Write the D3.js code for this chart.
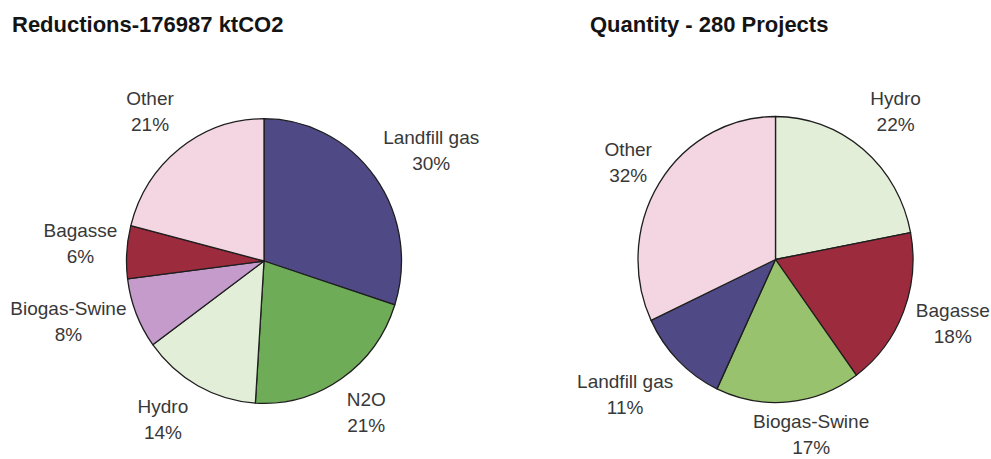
<!DOCTYPE html>
<html>
<head>
<meta charset="utf-8">
<script src="https://cdn.jsdelivr.net/npm/d3@7"></script>
<style>
  html, body { margin: 0; padding: 0; background: #ffffff; }
  svg { display: block; }
</style>
</head>
<body>
<svg id="chart" width="991" height="459"></svg>
<script>
// Emission reductions by project type (share of ktCO2)
const reductionTitle = "Reductions-176987 ktCO2";
const reductionCategories = ["Landfill gas", "N2O", "Hydro", "Biogas-Swine", "Bagasse", "Other"];
const reductionShares = [30, 21, 14, 8, 6, 21];

// Number of projects by type (share of 280 projects)
const quantityTitle = "Quantity - 280 Projects";
const quantityCategories = ["Hydro", "Bagasse", "Biogas-Swine", "Landfill gas", "Other"];
const quantityShares = [22, 18, 17, 11, 32];

// Fill colour per project type
const typeColors = {
  "Landfill gas": "#4f4a86",
  "N2O": "#6fac58",
  "Hydro": "#e2eed7",
  "Biogas-Swine": "#c49bca",
  "Bagasse": "#9d2b3e",
  "Other": "#f4d6e2"
};
const quantityColors = Object.assign({}, typeColors, { "Biogas-Swine": "#98c26d" });

// Small hand adjustments to the automatic outside-label placement
const reductionLabelNudge = {
  "Landfill gas": [5, 11], "N2O": [2, -2], "Hydro": [-14, -6],
  "Biogas-Swine": [0, -20], "Bagasse": [2, -6], "Other": [-3, -2]
};
const quantityLabelNudge = {
  "Hydro": [4, -3], "Bagasse": [0, -10], "Biogas-Swine": [19, -9],
  "Landfill gas": [-10, -11], "Other": [5, 3]
};

const svg = d3.select("#chart");

function drawPie(opts) {
  const { title, titleX, categories, shares, colors, nudge, cx, cy, radius, yStretch } = opts;

  svg.append("text")
    .attr("x", titleX)
    .attr("y", 32)
    .attr("font-family", "'Liberation Sans', Arial, sans-serif")
    .attr("font-size", 22)
    .attr("font-weight", "bold")
    .attr("fill", "#141414")
    .text(title);

  const data = categories.map((c, i) => ({ category: c, share: shares[i] }));
  const pie = d3.pie().sort(null).value(d => d.share);
  const arcs = pie(data);
  const arc = d3.arc().innerRadius(0).outerRadius(radius);

  const g = svg.append("g")
    .attr("transform", `translate(${cx},${cy}) scale(1,${yStretch})`);

  g.selectAll("path")
    .data(arcs)
    .join("path")
    .attr("d", arc)
    .attr("fill", d => colors[d.data.category])
    .attr("stroke", "#1e1e1e")
    .attr("stroke-width", 1.3)
    .attr("vector-effect", "non-scaling-stroke")
    .attr("stroke-linejoin", "round");

  // Labels sit just outside the rim, along each slice's mid-angle
  const gap = 10;
  const halfHeight = 24;
  arcs.forEach(a => {
    const mid = (a.startAngle + a.endAngle) / 2;
    const sx = Math.sin(mid), sy = -Math.cos(mid);
    const label = svg.append("text")
      .attr("font-family", "'Liberation Sans', Arial, sans-serif")
      .attr("font-size", 19)
      .attr("fill", "#383838")
      .attr("text-anchor", "middle");
    const t1 = label.append("tspan").text(a.data.category);
    const t2 = label.append("tspan").text(a.data.share + "%");
    const w = Math.max(t1.node().getComputedTextLength(), t2.node().getComputedTextLength());
    const extent = (w / 2) * Math.abs(sx) + halfHeight * Math.abs(sy);
    const dist = radius + gap + extent;
    const [nx, ny] = nudge[a.data.category] || [0, 0];
    const lx = cx + dist * sx + nx;
    const ly = cy + dist * sy * yStretch + ny;
    t1.attr("x", lx).attr("y", ly - 6);
    t2.attr("x", lx).attr("y", ly + 20);
  });
}

drawPie({
  title: reductionTitle, titleX: 12,
  categories: reductionCategories, shares: reductionShares,
  colors: typeColors, nudge: reductionLabelNudge,
  cx: 264, cy: 261, radius: 137.5, yStretch: 1.035
});

drawPie({
  title: quantityTitle, titleX: 590,
  categories: quantityCategories, shares: quantityShares,
  colors: quantityColors, nudge: quantityLabelNudge,
  cx: 775.5, cy: 259.5, radius: 137.5, yStretch: 1.04
});
</script>
</body>
</html>
